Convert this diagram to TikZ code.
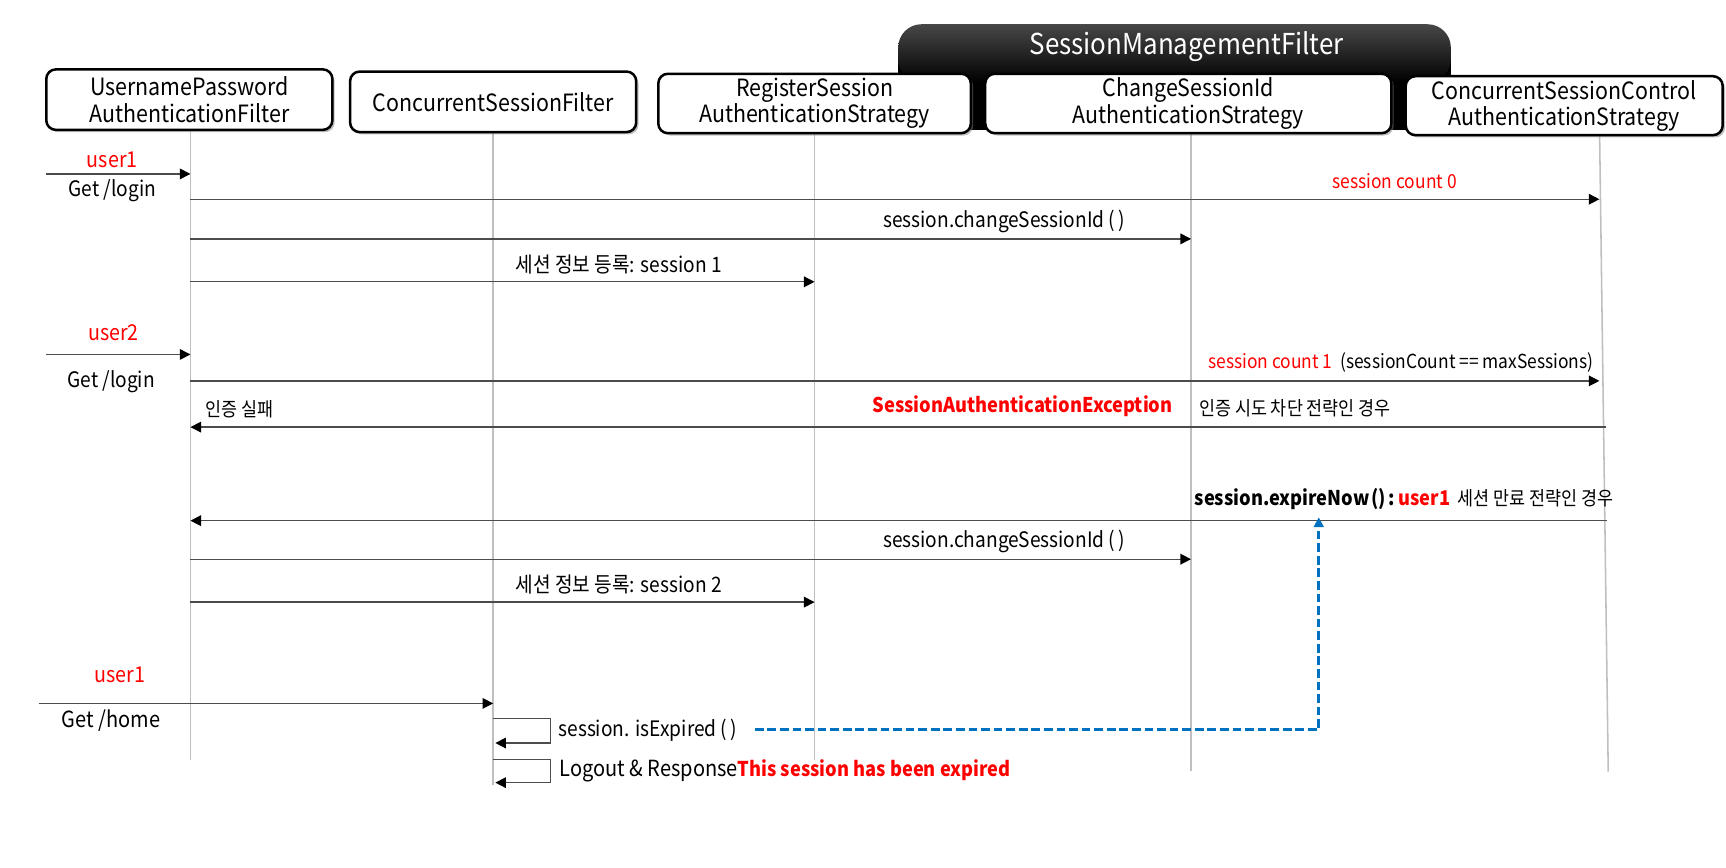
\documentclass[tikz,border=0pt]{standalone}
\usepackage{fontspec}
\setmainfont[FakeStretch=0.9]{Noto Sans CJK KR}
\usepackage{tikz}
\usetikzlibrary{arrows.meta,shadows,calc}
\definecolor{msgred}{RGB}{255,0,0}
\definecolor{dashblue}{RGB}{0,112,192}

\begin{document}
\begin{tikzpicture}[x=0.02cm,y=-0.02cm]
\tikzstyle{head}=[rectangle, rounded corners=5pt, draw=black, line width=1.3pt, fill=white, align=center, inner sep=2pt, font=\fontsize{12.3}{13.6}\selectfont, drop shadow={shadow xshift=1.2pt, shadow yshift=-1.2pt, fill=black!50}]
\tikzstyle{banner}=[text=white, font=\fontsize{14.9}{16}\selectfont]
\tikzstyle{life}=[draw=black!25, line width=0.8pt]
\tikzstyle{connect}=[-{Triangle[length=5.5pt,width=5.5pt,color=black]}, draw=black!70, line width=0.7pt]
\tikzstyle{expire}=[-{Triangle[length=5pt,width=5pt]}, draw=dashblue, line width=1.5pt, dash pattern=on 4.5pt off 2pt]
\tikzstyle{lbl}=[inner sep=0pt, font=\fontsize{11}{13}\selectfont]
\tikzstyle{sml}=[inner sep=0pt, font=\fontsize{10}{12}\selectfont]
\tikzstyle{usr}=[lbl, text=msgred, font=\fontsize{11.3}{13}\selectfont]

  \useasboundingbox (0,0) rectangle (1568,788);

  % SessionManagementFilter banner
  \fill[black] (816,50) rectangle (1318,118);
  \shade[top color=black!72, bottom color=black, rounded corners=12pt] (816,22) rectangle (1318,75);
  \node[banner] (smf) at (1078,42) {SessionManagementFilter};

  % lifelines
  \coordinate (t1) at (173,110);
  \coordinate (t2) at (448,110);
  \coordinate (t3) at (740,110);
  \coordinate (t4) at (1082,110);
  \coordinate (t5) at (1453,110);
  \coordinate (e1) at (173,690);
  \coordinate (e2) at (448,713);
  \coordinate (e3) at (740,690);
  \coordinate (e4) at (1082,700);
  \coordinate (e5) at (1461,701);
  \draw[life] (t1) -- (e1);
  \draw[life] (t2) -- (e2);
  \draw[life] (t3) -- (e3);
  \draw[life] (t4) -- (e4);
  \draw[life] (t5) -- (e5);

  % heads
  \node[head, minimum width=5.2cm, minimum height=1.1cm] (upaf) at (172,90.5) {UsernamePassword\\AuthenticationFilter};
  \node[head, minimum width=5.2cm, minimum height=1.1cm] (csf) at (448,92.5) {ConcurrentSessionFilter};
  \node[head, minimum width=5.68cm, minimum height=1.08cm] (rsas) at (740,94) {RegisterSession\\AuthenticationStrategy};
  \node[head, minimum width=7.38cm, minimum height=1.08cm] (csias) at (1079.5,94) {ChangeSessionId\\AuthenticationStrategy};
  \node[head, minimum width=5.76cm, minimum height=1.02cm] (cscas) at (1421,96) {ConcurrentSessionControl\\AuthenticationStrategy};

  % user1 login
  \node[usr] (u1) at (102,145) {user1};
  \node[lbl] (g1) at (102,173) {Get /login};
  \coordinate (in1) at (42,158);
  \draw[connect] (in1) -- (t1 |- in1);

  \node[sml, text=msgred] (sc0) at (1267,165) {session count 0};
  \draw[connect] (t1 |- 0,181) -- (t5 |- 0,181);
  \node[lbl] (ch1) at (912,201) {session.changeSessionId\,(\,)};
  \draw[connect] (t1 |- 0,217) -- (t4 |- 0,217);
  \node[lbl] (rg1) at (562,240) {세션 정보 등록: session 1};
  \draw[connect] (t1 |- 0,256) -- (t3 |- 0,256);

  % user2 login
  \node[usr] (u2) at (103,302) {user2};
  \node[lbl] (g2) at (101,347) {Get /login};
  \coordinate (in2) at (42,322);
  \draw[connect] (in2) -- (t1 |- in2);

  \node[sml, anchor=east] (sc1) at (1448,329) {\textcolor{msgred}{session count 1}\ \ (sessionCount == maxSessions)};
  \draw[connect] (t1 |- 0,346) -- (t5 |- 0,346);

  \node[sml, anchor=west] (fail) at (186,372) {인증 실패};
  \node[lbl, text=msgred, font=\fontsize{10.5}{13}\selectfont\bfseries] (sae) at (929,369) {SessionAuthenticationException};
  \node[sml, anchor=west] (blk) at (1089,371) {인증 시도 차단 전략인 경우};
  \draw[connect] ([xshift=0.12cm]t5 |- 0,388) -- (t1 |- 0,388);

  \node[sml, anchor=west] (exp) at (1085,453) {{\fontsize{10.5}{13}\selectfont\bfseries session.expireNow\kern1pt()\kern1pt:\kern2pt\textcolor{msgred}{user1}}\ \ 세션 만료 전략인 경우};
  \draw[connect] ([xshift=0.14cm]t5 |- 0,473) -- (t1 |- 0,473);

  \node[lbl] (ch2) at (912,492) {session.changeSessionId\,(\,)};
  \draw[connect] (t1 |- 0,508) -- (t4 |- 0,508);
  \node[lbl] (rg2) at (562,531) {세션 정보 등록: session 2};
  \draw[connect] (t1 |- 0,547) -- (t3 |- 0,547);

  % user1 home
  \node[usr] (u3) at (109,613) {user1};
  \node[lbl, font=\fontsize{11.5}{13}\selectfont] (g3) at (101,655) {Get /home};
  \coordinate (in3) at (35,639);
  \draw[connect] (in3) -- (t2 |- in3);

  \draw[connect] (t2 |- 0,653) -- ++(52,0) -- ++(0,22) -- ++(-50,0);
  \node[lbl, anchor=west] (iex) at (507,663) {session. isExpired\,(\,)};
  \draw[connect] (t2 |- 0,690) -- ++(52,0) -- ++(0,21) -- ++(-50,0);
  \node[lbl, anchor=west, font=\fontsize{11.5}{13}\selectfont] (lr) at (508,700) {Logout \& Response\textcolor{msgred}{\fontsize{10.5}{13}\selectfont\bfseries This session has been expired}};

  \coordinate (xp) at (1198,470);
  \draw[expire] ([xshift=0.32cm]iex.east) -| (xp);

\end{tikzpicture}
\end{document}
